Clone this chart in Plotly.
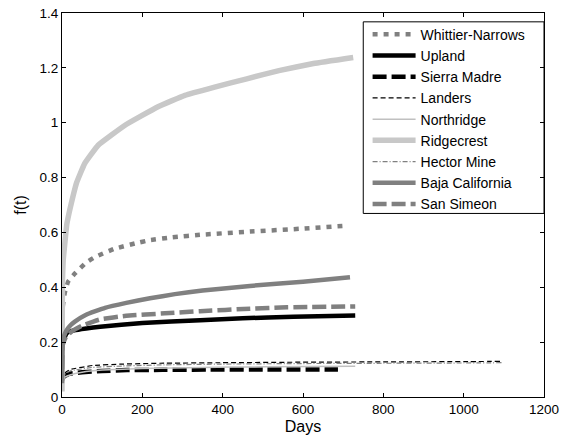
import plotly.graph_objects as go

# ---- data ----
whittier_days = [0, 2, 7, 15, 32, 60, 82, 130, 182, 219, 274, 350, 468, 600, 712]
whittier_vals = [0.25, 0.33, 0.38, 0.42, 0.45, 0.49, 0.51, 0.54, 0.56, 0.572, 0.582, 0.592, 0.603, 0.614, 0.625]

upland_days = [0, 1, 4, 12, 30, 60, 95, 200, 344, 450, 576, 730]
upland_vals = [0.10, 0.18, 0.21, 0.233, 0.243, 0.25, 0.256, 0.27, 0.28, 0.287, 0.293, 0.297]

sierra_days = [0, 5, 20, 50, 100, 162, 250, 369, 500, 687]
sierra_vals = [0.06, 0.075, 0.085, 0.09, 0.095, 0.098, 0.099, 0.10, 0.10, 0.10]

landers_days = [0, 5, 20, 77, 150, 244, 400, 600, 800, 1000, 1095]
landers_vals = [0.06, 0.085, 0.10, 0.115, 0.12, 0.123, 0.125, 0.127, 0.128, 0.129, 0.13]

northridge_days = [0, 5, 20, 50, 100, 200, 350, 500, 730]
northridge_vals = [0.05, 0.07, 0.08, 0.09, 0.098, 0.104, 0.108, 0.11, 0.112]

ridgecrest_days = [0, 1, 3, 7, 12, 19, 27, 36, 56, 90, 156, 239, 306, 380, 460, 540, 626, 725]
ridgecrest_vals = [0.02, 0.42, 0.50, 0.56, 0.63, 0.68, 0.73, 0.78, 0.85, 0.918, 0.99, 1.058, 1.10, 1.13, 1.16, 1.19, 1.216, 1.238]

hector_days = [0, 5, 20, 77, 150, 244, 400, 600, 800, 1000, 1095]
hector_vals = [0.06, 0.08, 0.095, 0.108, 0.113, 0.117, 0.12, 0.122, 0.123, 0.124, 0.125]

baja_days = [0, 1, 3, 10, 20, 32, 60, 107, 160, 219, 281, 350, 468, 600, 717]
baja_vals = [0.05, 0.17, 0.21, 0.24, 0.26, 0.275, 0.30, 0.325, 0.343, 0.36, 0.375, 0.388, 0.405, 0.42, 0.437]

simeon_days = [0, 2, 10, 25, 50, 95, 160, 256, 344, 468, 560, 730]
simeon_vals = [0.10, 0.19, 0.22, 0.24, 0.26, 0.283, 0.296, 0.305, 0.313, 0.322, 0.327, 0.33]

x_ticks = [0, 200, 400, 600, 800, 1000, 1200]
y_ticks = [0, 0.2, 0.4, 0.6, 0.8, 1, 1.2, 1.4]

series = [
    ("Whittier-Narrows", whittier_days, whittier_vals, "#808080", 4.5, "5px,6px"),
    ("Upland", upland_days, upland_vals, "#000000", 4.5, "solid"),
    ("Sierra Madre", sierra_days, sierra_vals, "#000000", 4.5, "14px,5px"),
    ("Landers", landers_days, landers_vals, "#000000", 1.2, "5px,3px"),
    ("Northridge", northridge_days, northridge_vals, "#c0c0c0", 1.5, "solid"),
    ("Ridgecrest", ridgecrest_days, ridgecrest_vals, "#c8c8c8", 5.5, "solid"),
    ("Hector Mine", hector_days, hector_vals, "#808080", 1.2, "5px,2px,1px,2px"),
    ("Baja California", baja_days, baja_vals, "#808080", 4.5, "solid"),
    ("San Simeon", simeon_days, simeon_vals, "#808080", 4.5, "14px,5px"),
]

fig = go.Figure()
for name, d, v, col, w, dash in series:
    fig.add_trace(go.Scatter(
        x=d, y=v, mode="lines", name=name,
        line=dict(color=col, width=w, dash=dash, shape="spline", smoothing=0.3),
    ))

font_family = "Liberation Sans, Arial, sans-serif"
fig.update_layout(
    width=572, height=441,
    margin=dict(l=62, r=28, t=13, b=44),
    paper_bgcolor="white", plot_bgcolor="white",
    font=dict(family=font_family, size=13.5, color="black"),
    showlegend=True,
    legend=dict(
        x=0.634, y=0.985, xanchor="left", yanchor="top",
        bgcolor="rgba(0,0,0,0)", borderwidth=0,
        font=dict(size=14, color="black"),
        itemwidth=43, tracegroupgap=0,
    ),
    shapes=[dict(
        type="rect", xref="paper", yref="paper",
        x0=0.625, x1=1.0, y0=0.478, y1=0.977,
        line=dict(color="black", width=1), fillcolor="white", layer="below",
    )],
)
fig.update_xaxes(
    range=[0, 1200], tickvals=x_ticks, automargin=False, ticklabeloverflow="allow",
    showline=True, linecolor="black", linewidth=1, mirror="allticks",
    ticks="inside", ticklen=4, tickcolor="black",
    showgrid=False, zeroline=False,
    title=dict(text="Days", standoff=4),
)
fig.update_yaxes(
    range=[0, 1.4], tickvals=y_ticks, automargin=False, ticklabeloverflow="allow",
    showline=True, linecolor="black", linewidth=1, mirror="allticks",
    ticks="inside", ticklen=4, tickcolor="black",
    showgrid=False, zeroline=False,
    title=dict(text="f(t)", standoff=8),
)

# remove the default 8px page-body margin so the figure fills the window
fig.write_html(
    "out.html",
    config={"displayModeBar": False},
    post_script="document.body.style.margin='0';",
)
